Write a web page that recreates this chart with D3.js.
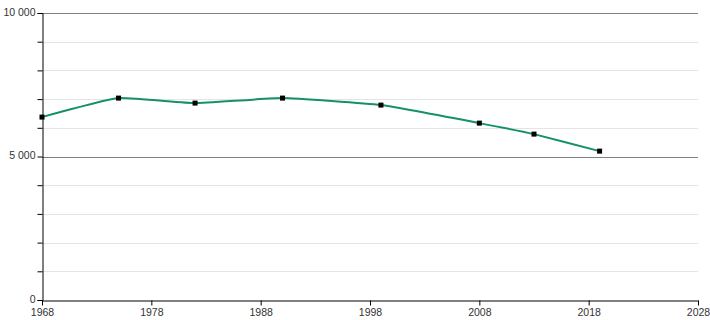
<!DOCTYPE html>
<html>
<head>
<meta charset="utf-8">
<script src="https://cdn.jsdelivr.net/npm/d3@7"></script>
<style>
  body { margin: 0; background: #fff; }
  svg { display: block; font-family: "Liberation Sans", Arial, sans-serif; }
</style>
</head>
<body>
<div id="chart"></div>
<script>
// census years and population
const years = [1968, 1975, 1982, 1990, 1999, 2008, 2013, 2019]
const population = [6373, 7035, 6861, 7035, 6791, 6163, 5780, 5187]
const xTicks = [1968, 1978, 1988, 1998, 2008, 2018, 2028]
const yMajor = [0, 5000, 10000]
const yMinor = [1000, 2000, 3000, 4000, 6000, 7000, 8000, 9000]

let width = 710, height = 320
let margin = {left: 42, right: 12, top: 13, bottom: 20}

let svg = d3.select('#chart').append('svg')
    .attr('width', width)
    .attr('height', height)

let x = d3.scaleLinear().domain([1968, 2028]).range([margin.left, width - margin.right])
let y = d3.scaleLinear().domain([0, 10000]).range([height - margin.bottom, margin.top])

let fmt = v => d3.format(',')(v).replace(/,/g, ' ')

// gridlines
svg.append('g').selectAll('line')
    .data(yMinor).enter().append('line')
    .attr('x1', x(1968)).attr('x2', x(2028))
    .attr('y1', d => Math.round(y(d)) + 0.5).attr('y2', d => Math.round(y(d)) + 0.5)
    .attr('stroke', '#e4e4e4')
svg.append('g').selectAll('line')
    .data(yMajor.filter(d => d > 0)).enter().append('line')
    .attr('x1', x(1968)).attr('x2', x(2028))
    .attr('y1', d => Math.round(y(d)) + 0.5).attr('y2', d => Math.round(y(d)) + 0.5)
    .attr('stroke', '#808080')

// y axis
let yAxis = svg.append('g')
    .attr('transform', `translate(${margin.left + 0.5},0)`)
    .call(d3.axisLeft(y).tickValues(yMajor.concat(yMinor)).tickSize(5).tickFormat(d => yMajor.includes(d) ? fmt(d) : ''))
yAxis.select('.domain').attr('stroke', '#000')
yAxis.selectAll('text').attr('font-size', 10.5).attr('fill', '#333').attr('dx', 1).attr('dy', '0.2em')
yAxis.selectAll('.tick line').attr('stroke', '#000')

// x axis
let xAxis = svg.append('g')
    .attr('transform', `translate(0,${height - margin.bottom + 0.5})`)
    .call(d3.axisBottom(x).tickValues(xTicks).tickSize(5).tickFormat(d3.format('d')).tickSizeOuter(0))
xAxis.select('.domain').attr('stroke', '#000')
xAxis.selectAll('text').attr('font-size', 10.5).attr('fill', '#333').attr('dy', '0.7em')
xAxis.selectAll('.tick line').attr('stroke', '#000')

let data = years.map((d, i) => ({year: d, value: population[i]}))

let line = d3.line()
    .x(d => x(d.year))
    .y(d => y(d.value))
    .curve(d3.curveCardinal.tension(0.6))

svg.append('path')
    .attr('d', line(data))
    .attr('fill', 'none')
    .attr('stroke', '#14916c')
    .attr('stroke-width', 2)

svg.selectAll('rect.pt')
    .data(data).enter().append('rect')
    .attr('class', 'pt')
    .attr('x', d => x(d.year) - 2.5)
    .attr('y', d => y(d.value) - 2.5)
    .attr('width', 5).attr('height', 5)
    .attr('fill', '#000')
</script>
</body>
</html>
